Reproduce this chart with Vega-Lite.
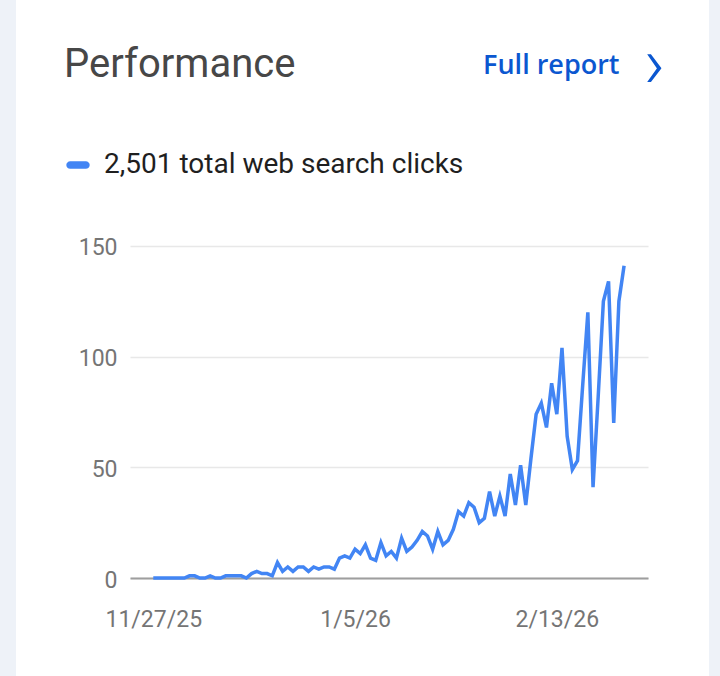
{
  "$schema": "https://vega.github.io/schema/vega-lite/v6.json",
  "autosize": {"type": "pad"},
  "padding": 0,
  "background": "white",
  "config": {
    "view": {"stroke": null},
    "font": "Roboto"
  },
  "resolve": {"scale": {"color": "independent"}, "legend": {"color": "independent"}},
  "spacing": 3,
  "bounds": "full",
  "hconcat": [
    {
      "width": 16,
      "height": 676,
      "view": {"fill": "#eef2f8", "stroke": null},
      "data": {"values": [{"card": "edge"}]},
      "mark": {"type": "rect", "opacity": 0},
      "encoding": {}
    },
    {
      "spacing": 44,
      "bounds": "full",
      "resolve": {"scale": {"color": "independent"}, "legend": {"color": "independent"}},
      "hconcat": [
        {
          "width": 518,
          "height": 578,
          "data": {
            "values": [
              {"date": "2025-11-27", "clicks": 0}, {"date": "2025-11-28", "clicks": 0}, {"date": "2025-11-29", "clicks": 0}, {"date": "2025-11-30", "clicks": 0},
              {"date": "2025-12-01", "clicks": 0}, {"date": "2025-12-02", "clicks": 0}, {"date": "2025-12-03", "clicks": 0}, {"date": "2025-12-04", "clicks": 1},
              {"date": "2025-12-05", "clicks": 1}, {"date": "2025-12-06", "clicks": 0}, {"date": "2025-12-07", "clicks": 0}, {"date": "2025-12-08", "clicks": 1},
              {"date": "2025-12-09", "clicks": 0}, {"date": "2025-12-10", "clicks": 0}, {"date": "2025-12-11", "clicks": 1}, {"date": "2025-12-12", "clicks": 1},
              {"date": "2025-12-13", "clicks": 1}, {"date": "2025-12-14", "clicks": 1}, {"date": "2025-12-15", "clicks": 0}, {"date": "2025-12-16", "clicks": 2},
              {"date": "2025-12-17", "clicks": 3}, {"date": "2025-12-18", "clicks": 2}, {"date": "2025-12-19", "clicks": 2}, {"date": "2025-12-20", "clicks": 1},
              {"date": "2025-12-21", "clicks": 7}, {"date": "2025-12-22", "clicks": 3}, {"date": "2025-12-23", "clicks": 5}, {"date": "2025-12-24", "clicks": 3},
              {"date": "2025-12-25", "clicks": 5}, {"date": "2025-12-26", "clicks": 5}, {"date": "2025-12-27", "clicks": 3}, {"date": "2025-12-28", "clicks": 5},
              {"date": "2025-12-29", "clicks": 4}, {"date": "2025-12-30", "clicks": 5}, {"date": "2025-12-31", "clicks": 5}, {"date": "2026-01-01", "clicks": 4},
              {"date": "2026-01-02", "clicks": 9}, {"date": "2026-01-03", "clicks": 10}, {"date": "2026-01-04", "clicks": 9}, {"date": "2026-01-05", "clicks": 13},
              {"date": "2026-01-06", "clicks": 11}, {"date": "2026-01-07", "clicks": 15}, {"date": "2026-01-08", "clicks": 9}, {"date": "2026-01-09", "clicks": 8},
              {"date": "2026-01-10", "clicks": 16}, {"date": "2026-01-11", "clicks": 10}, {"date": "2026-01-12", "clicks": 12}, {"date": "2026-01-13", "clicks": 9},
              {"date": "2026-01-14", "clicks": 18}, {"date": "2026-01-15", "clicks": 12}, {"date": "2026-01-16", "clicks": 14}, {"date": "2026-01-17", "clicks": 17},
              {"date": "2026-01-18", "clicks": 21}, {"date": "2026-01-19", "clicks": 19}, {"date": "2026-01-20", "clicks": 13}, {"date": "2026-01-21", "clicks": 21},
              {"date": "2026-01-22", "clicks": 15}, {"date": "2026-01-23", "clicks": 17}, {"date": "2026-01-24", "clicks": 22}, {"date": "2026-01-25", "clicks": 30},
              {"date": "2026-01-26", "clicks": 28}, {"date": "2026-01-27", "clicks": 34}, {"date": "2026-01-28", "clicks": 32}, {"date": "2026-01-29", "clicks": 25},
              {"date": "2026-01-30", "clicks": 27}, {"date": "2026-01-31", "clicks": 39}, {"date": "2026-02-01", "clicks": 28}, {"date": "2026-02-02", "clicks": 37},
              {"date": "2026-02-03", "clicks": 28}, {"date": "2026-02-04", "clicks": 47}, {"date": "2026-02-05", "clicks": 33}, {"date": "2026-02-06", "clicks": 51},
              {"date": "2026-02-07", "clicks": 33}, {"date": "2026-02-08", "clicks": 54}, {"date": "2026-02-09", "clicks": 74}, {"date": "2026-02-10", "clicks": 79},
              {"date": "2026-02-11", "clicks": 68}, {"date": "2026-02-12", "clicks": 88}, {"date": "2026-02-13", "clicks": 74}, {"date": "2026-02-14", "clicks": 104},
              {"date": "2026-02-15", "clicks": 64}, {"date": "2026-02-16", "clicks": 49}, {"date": "2026-02-17", "clicks": 53}, {"date": "2026-02-18", "clicks": 87},
              {"date": "2026-02-19", "clicks": 120}, {"date": "2026-02-20", "clicks": 41}, {"date": "2026-02-21", "clicks": 82}, {"date": "2026-02-22", "clicks": 125},
              {"date": "2026-02-23", "clicks": 134}, {"date": "2026-02-24", "clicks": 70}, {"date": "2026-02-25", "clicks": 125}, {"date": "2026-02-26", "clicks": 141}
            ]
          },
          "mark": {"type": "line", "strokeWidth": 3.5},
          "encoding": {
            "x": {
              "field": "date",
              "type": "temporal",
              "scale": {
                "type": "utc",
                "domain": [
                  {"year": 2025, "month": 11, "date": 22, "hours": 12, "utc": true},
                  {"year": 2026, "month": 3, "date": 2, "hours": 15, "utc": true}
                ]
              },
              "axis": {
                "values": [
                  {"year": 2025, "month": 11, "date": 27, "utc": true},
                  {"year": 2026, "month": 1, "date": 5, "utc": true},
                  {"year": 2026, "month": 2, "date": 13, "utc": true}
                ],
                "labelExpr": "utcFormat(datum.value, '%-m/%-d/%y')",
                "grid": false,
                "ticks": false,
                "tickSize": 0,
                "domain": true,
                "domainColor": "#9e9e9e",
                "domainWidth": 2,
                "labelFont": "Roboto",
                "labelFontSize": 23,
                "labelColor": "#757575",
                "labelPadding": 30,
                "labelFlush": false,
                "labelOverlap": false,
                "title": "›",
                "titleFont": "Roboto",
                "titleFontWeight": 300,
                "titleFontSize": 72,
                "titleColor": "#0b57d0",
                "titleAlign": "center",
                "titleBaseline": "middle",
                "titleAngle": 0,
                "titleX": 524,
                "titleY": -513
              }
            },
            "y": {
              "field": "clicks",
              "type": "quantitative",
              "scale": {"domain": [0, 261.1], "nice": false, "zero": true},
              "axis": {
                "values": [0, 50, 100, 150],
                "grid": true,
                "gridColor": "#e8e8e8",
                "gridWidth": 1.5,
                "domain": false,
                "ticks": false,
                "tickSize": 0,
                "labelFont": "Roboto",
                "labelFontSize": 23,
                "labelColor": "#757575",
                "labelPadding": 13,
                "labelBaseline": "middle",
                "labelOffset": 2,
                "title": "Full report",
                "titleFont": "Open Sans",
                "titleFontWeight": 600,
                "titleFontSize": 27,
                "titleColor": "#0b57d0",
                "titleAngle": 0,
                "titleAlign": "right",
                "titleBaseline": "alphabetic",
                "titleX": 489,
                "titleY": 73
              }
            },
            "color": {
              "datum": "2,501 total web search clicks",
              "scale": {"range": ["#4285f4"]},
              "legend": {
                "orient": "none",
                "legendX": -111,
                "legendY": 0,
                "padding": 45,
                "title": "Performance",
                "titleFont": "Roboto",
                "titleFontSize": 40,
                "titleFontWeight": 400,
                "titleColor": "#474747",
                "titleLimit": 700,
                "titlePadding": 66,
                "titleBaseline": "top",
                "labelFont": "Roboto",
                "labelFontSize": 28,
                "labelColor": "#1f1f1f",
                "labelOffset": 12,
                "labelLimit": 600,
                "symbolType": "M-0.67,-0.33 H0.67 A0.33,0.33 0 0 1 0.67,0.33 H-0.67 A0.33,0.33 0 0 1 -0.67,-0.33 Z",
                "symbolSize": 548,
                "symbolFillColor": "#4285f4",
                "symbolStrokeColor": "#4285f4",
                "symbolStrokeWidth": 0
              }
            }
          }
        },
        {
          "width": 16,
          "height": 676,
          "view": {"fill": "#eef2f8", "stroke": null},
          "data": {"values": [{"card": "edge"}]},
          "mark": {"type": "rect", "opacity": 0},
          "encoding": {}
        }
      ]
    }
  ]
}
